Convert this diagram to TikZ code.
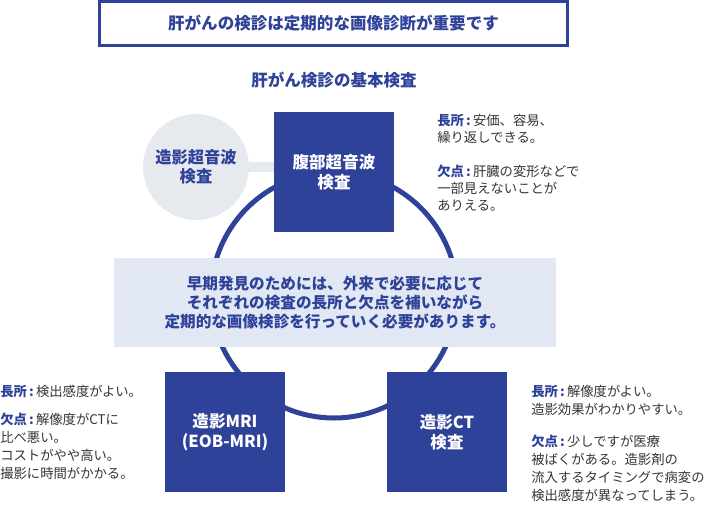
\documentclass[tikz,border=0pt]{standalone}
\usepackage{fontspec}
\setmainfont{Noto Sans CJK JP}
\usepackage{xcolor}
\usetikzlibrary{positioning}

\definecolor{mainblue}{HTML}{2F4299}
\definecolor{softgray}{HTML}{E6E9EE}
\definecolor{notebg}{HTML}{E1E8F3}
\definecolor{bodygray}{HTML}{353535}

\newcommand{\goodpt}{{\bfseries\color{mainblue}長所\,:}\,}
\newcommand{\badpt}{{\bfseries\color{mainblue}欠点\,:}\,}

\begin{document}
\begin{tikzpicture}[%
  x=0.75pt, y=-0.75pt,
  every node/.style={align=center, inner sep=0pt},
  headbox/.style={draw=mainblue, line width=2.25pt, minimum width=351pt, minimum height=33pt, text=mainblue, font=\fontsize{12.4}{15}\selectfont\bfseries},
  head/.style={text=mainblue, font=\fontsize{12.4}{15}\selectfont\bfseries},
  exam/.style={fill=mainblue, minimum width=90pt, minimum height=90pt, text=white, font=\fontsize{12.4}{14.7}\selectfont\bfseries},
  subexam/.style={circle, fill=softgray, minimum size=79.5pt, text=mainblue, font=\fontsize{12.2}{14.3}\selectfont\bfseries},
  note/.style={fill=notebg, minimum width=331.5pt, minimum height=66.75pt, text=mainblue, font=\fontsize{11.7}{14.3}\selectfont\bfseries},
  lbl/.style={align=left, anchor=north west, text=bodygray, font=\fontsize{10}{12.8}\selectfont},
  ring/.style={draw=mainblue, line width=3.75pt}
]
\useasboundingbox (0,0) rectangle (710,510);

% Title
\node[headbox] (title) at (333.5,23.5) {肝がんの検診は定期的な画像診断が重要です};
\node[head] (subtitle) at (334,80) {肝がん検診の基本検査};

% Ring behind the three exams
\coordinate (ringc) at (334,295);
\draw[ring] (ringc) circle[radius=92.25pt];

% Exams
\node[subexam] (echo) at (196,167) {造影超音波\\検査};
\node[exam] (us) at (334,172) {腹部超音波\\検査};
\node[exam, font=\fontsize{12.4}{15}\selectfont\bfseries] (mri) at (225,432) {造影MRI\\(EOB-MRI)};
\node[exam] (ct) at (447,432) {造影CT\\検査};
\draw[softgray, line width=7.5pt] (echo.east) -- (echo.east -| us.west);

% Message
\node[note] (msg) at (335,302.5) {早期発見のためには、外来で必要に応じて\\それぞれの検査の長所と欠点を補いながら\\定期的な画像検診を行っていく必要があります。};

% Pros and cons
\node[lbl] (usPros) at (437,114) {\goodpt 安価、容易、\\繰り返しできる。};
\node[lbl] (usCons) at (437,165) {\badpt 肝臓の変形などで\\一部見えないことが\\ありえる。};
\node[lbl] (mriPros) at (0,385) {\goodpt 検出感度がよい。};
\node[lbl, font=\fontsize{10}{13.5}\selectfont] (mriCons) at (0,413) {\badpt 解像度がCTに\\比べ悪い。\\コストがやや高い。\\撮影に時間がかかる。};
\node[lbl, font=\fontsize{10}{13.2}\selectfont] (ctPros) at (531,385) {\goodpt 解像度がよい。\\造影効果がわかりやすい。};
\node[lbl, font=\fontsize{10}{13.3}\selectfont] (ctCons) at (531,435) {\badpt 少しですが医療\\被ばくがある。造影剤の\\流入するタイミングで病変の\\検出感度が異なってしまう。};
\end{tikzpicture}
\end{document}
